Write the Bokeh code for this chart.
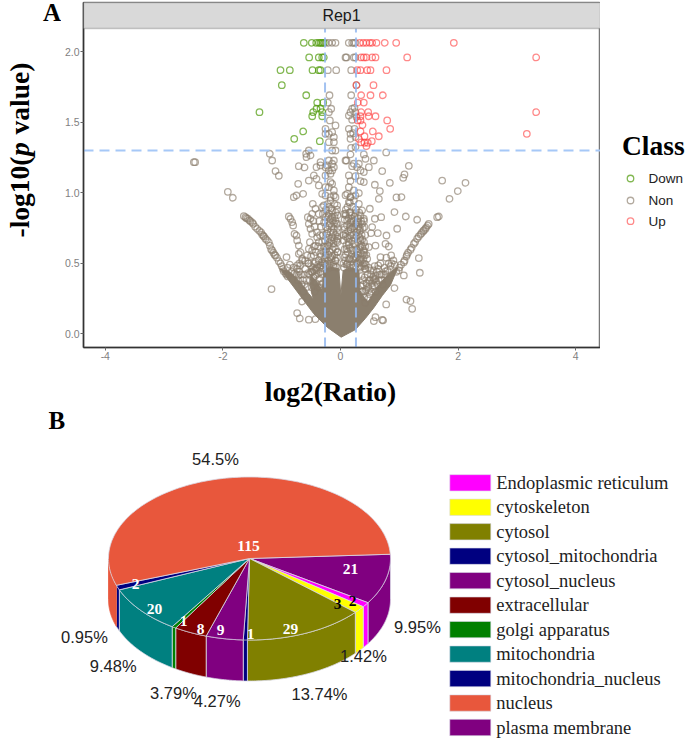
import numpy as np
from bokeh.embed import file_html
from bokeh.resources import INLINE
from bokeh.layouts import column, row
from bokeh.plotting import figure
from bokeh.models import Label, BoxAnnotation, FixedTicker, Range1d
from bokeh.core.properties import value

# ---------- volcano values (log2 ratio, -log10 p) ----------
down_x = [-.624,-.488,-.413,-.369,-.34,-.31,-.284,-.533,-.369,-.311,-.284,-1.02,-.862,-.476,-.369,-.34,
          -.998,-.583,-1.378,-.396,-.294,-.408,-.464,-.481,-.34,-.311,-.311,-.634,-.787,-.352]
down_y = [2.064,2.064,2.064,2.064,2.064,2.064,2.064,1.96,1.96,1.96,1.96,1.87,1.87,1.87,1.87,1.87,
          1.763,1.692,1.572,1.64,1.64,1.596,1.572,1.543,1.596,1.572,1.543,1.435,1.383,1.366]

up_x = [.328,.386,.442,.498,.539,.612,.753,.947,1.927,.352,.396,.442,.539,.595,1.134,3.328,
        .284,.34,.454,.51,.782,.272,.561,.352,.51,.72,.294,.396,3.328,.352,.471,.34,.481,.595,
        .794,.294,.34,.374,.845,.55,.34,3.169,.408,.651,.312,.352,.408,.464,.532,.442]
up_y = [2.064,2.064,2.064,2.064,2.064,2.064,2.064,2.064,2.064,1.96,1.96,1.96,1.96,1.96,1.96,1.96,
        1.87,1.87,1.87,1.87,1.87,1.763,1.763,1.692,1.692,1.692,1.64,1.64,1.572,1.572,1.572,1.543,1.543,1.543,
        1.513,1.513,1.513,1.48,1.454,1.435,1.435,1.418,1.401,1.401,1.383,1.357,1.355,1.355,1.366,1.33]

non_pts = [
 (-.255,2.064),(-.199,2.064),(-.141,2.064),(-.085,2.064),(.141,2.064),(.199,2.064),(.226,2.064),(.255,2.064),
 (.085,1.96),(.102,1.96),(.226,1.96),(.255,1.96),(-.216,1.87),(-.073,1.87),(.182,1.87),(.272,1.763),(.182,1.692),
 (-.187,1.692),(-.216,1.64),(-.158,1.596),(-.198,1.572),
 (-1.202,1.277),(-1.162,1.229),(-1.105,1.154),(-1.049,1.121),(-2.494,1.217),(-2.472,1.217),(-1.916,1.007),(-1.831,.965),
 (-.72,1.064),(-.709,1.189),(-.612,1.18),(-.584,1.277),(-.539,1.3),(-.578,1.253),(-.51,1.265),
 (-.539,1.087),(-.454,1.123),(-.408,1.099),(-.408,1.182),(-.34,1.194),(-.369,1.052),(-.255,1.04),
 (-.635,.993),(-.748,.981),(-.794,.969),(-.312,.993),(-.255,.981),(-.198,1.04),(-.17,1.076),(-.142,1.064),
 (-.113,1.017),(-.085,.969),(-.17,.969),(-.255,1.418),(-.255,1.454),(-.198,1.418),(-.113,1.395),(-.085,1.478),
 (-.142,1.43),(-.113,1.359),(-.198,1.359),(-.142,1.3),(-.085,1.3),(-.181,1.513),(-.34,1.217),(-.198,1.229),
 (-.142,1.206),(-.113,1.229),(-.198,1.159),(-.142,1.159),(-.17,1.135),(-.255,1.123),(-.227,1.194),(-.255,1.182),
 (-.113,1.182),(.085,1.229),
 (.198,1.596),(.17,1.572),(.255,1.572),(.238,1.603),(.142,1.548),(.198,1.518),(.272,1.537),(.142,1.454),(.238,1.454),
 (.17,1.418),(.215,1.423),(.17,1.383),(.255,1.395),(.181,1.319),(.255,1.324),(.17,1.272),(.397,1.272),(.425,1.241),
 (.102,1.229),(.227,1.206),(.312,1.206),(.198,1.189),(.283,1.182),(.34,1.159),(.482,1.182),(.567,1.229),(.397,1.147),
 (.777,1.286),(1.162,1.191),(.709,1.154),(1.088,1.13),(1.066,1.106),(.839,1.071),(.584,1.057),(.669,1.012),(.652,.957),
 (1.729,1.087),(2.126,1.071),(1.995,1.012),(1.854,.957),(.952,.967),(1.037,.97),(.34,1.083),(.397,1.076),(.142,1.123),
 (.17,1.083),(.255,1.118),(.142,1.04),(.227,1.017),(.312,.998),(.085,.983),(.17,.969),
 (1.644,.827),(1.672,.832),(1.485,.768),(1.446,.745),(1.406,.728),(1.361,.704),(1.304,.674),(1.247,.638),(1.19,.596),
 (1.122,.548),(1.077,.508),(.992,.45),(.918,.863),(1.111,.832),(1.304,.809),(.964,.745),(.692,.827),(.584,.816),
 (.499,.887),(.368,.875),(.539,.757),(.635,.714),(.522,.714),(.782,.697),(.765,.638),(.822,.619),(.862,.556),
 (1.332,.537),(1.349,.433),(1.122,.243),(1.19,.232),(1.219,.177),(.777,.208),(.726,.095),(.595,.118),(.567,.09),
 (.709,.099),(.765,.442),(1.077,.414),(.918,.324),(.68,.544),(.641,.485),(.567,.39),(.454,.532),(.397,.591),
 (.34,.662),(.482,.615),(.595,.626),
 (.085,.851),(.17,.863),(.255,.851),(.34,.839),(.397,.816),(.113,.804),(.198,.816),(.283,.792),(.368,.78),(.068,.757),
 (.159,.757),(.238,.745),(.329,.733),(.408,.757),(.085,.709),(.17,.697),(.272,.69),(.057,.662),(.142,.65),(.227,.638),
 (.34,.615),(.102,.603),(.198,.591),(.283,.58),(.408,.556),(.068,.544),(.159,.532),(.255,.532),(.34,.508),(.113,.492),
 (.215,.485),(.312,.478),(.425,.461),(.113,.993),(.17,.97),(.255,.981),(.142,.934),(.227,.946),(.312,.922),
 (-.879,.832),(-.85,.816),(-.822,.792),(-.805,.768),(-.782,.709),(-.748,.697),(-.737,.662),(-.709,.626),(-.709,.567),
 (-.68,.579),(-.652,.532),(-.68,.485),(-.709,.414),(-.737,.485),(-.918,.544),(-1.173,.317),(-.652,.229),(-.737,.147),
 (-.692,.109),(-.539,.1),(-.425,.104),
 (-1.644,.835),(-1.616,.827),(-1.576,.816),(-1.531,.799),(-1.485,.78),(-1.417,.745),(-1.332,.704),(-1.276,.674),
 (-1.219,.65),(-1.162,.591),(-1.105,.556),(-1.049,.515),(-.964,.444),(-.896,.407),
 (-.556,.827),(-.51,.816),(-.539,.78),(-.51,.745),(-.482,.709),(-.397,.685),(-.369,.65),(-.425,.626),(-.539,.603),
 (-.482,.591),(-.567,.556),(-.454,.556),(-.425,.508),(-.34,.485),(-.482,.437),(-.539,.499),(-.471,.922),(-.425,.887),
 (-.482,.851),(-.369,.851),(-.312,.898),(-.283,.91),
 (-.255,.827),(-.17,.816),(-.085,.804),(-.048,.78),(-.198,.768),(-.113,.745),(-.057,.721),(-.227,.709),(-.142,.685),
 (-.048,.674),(-.312,.65),(-.198,.626),(-.113,.615),(-.048,.579),(-.34,.567),(-.255,.556),(-.17,.544),(-.085,.52),
 (-.312,.485),(-.198,.485),(-.113,.475),(-.198,.898),(-.17,.946),(-.142,.875),(-.198,.851),(-.113,.981),(-.057,.911),
 # notches, bands and the crowded central columns
 (.42,.3),(.45,.36),(.5,.28),(.52,.42),(.55,.33),(.6,.3),(.62,.44),(.65,.38),(.7,.42),(.72,.35),(.58,.48),(.48,.47),
 (.75,.47),(.8,.45),(.85,.48),(.9,.52),(.68,.5),(.78,.54),(.42,.22),(.47,.25),(.38,.38),(.4,.48),
 (1.0,.47),(1.03,.49),(1.09,.52),(1.13,.56),(1.15,.575),(1.21,.61),(1.27,.65),(1.33,.69),(1.38,.715),(1.42,.735),
 (1.46,.755),(1.5,.78),(.95,.44),
 (-.8,.47),(-.75,.42),(-.72,.38),(-.66,.35),(-.62,.42),(-.6,.46),(-.58,.38),(-.55,.43),(-.7,.5),(-.65,.52),(-.6,.52),
 (-.5,.48),(-.45,.5),(-.63,.3),
 (-1.6,.82),(-1.55,.805),(-1.5,.79),(-1.45,.76),(-1.38,.73),(-1.31,.695),(-1.25,.665),(-1.2,.625),(-1.18,.6),(-1.14,.575),
 (-1.12,.56),(-1.08,.54),(-1.02,.5),(-1.0,.48),(-.98,.46),(-.93,.43),(-.92,.42),(-1.3,.69),(-1.35,.72),
 (-.3,.5),(-.27,.53),(-.24,.6),(-.28,.62),(-.3,.7),(-.26,.66),(-.22,.74),(-.25,.76),(-.28,.79),(-.2,.83),(-.23,.84),
 (-.17,.72),(-.15,.76),(-.13,.8),(-.1,.83),(-.07,.78),(-.05,.75),(-.09,.7),(-.16,.66),(-.12,.64),(-.08,.6),(-.05,.65),
 (-.18,.58),(-.14,.55),(-.1,.56),(-.06,.54),(-.22,.5),(-.27,.5),(-.16,.5),(-.08,.48),
 (.09,.56),(.1,.63),(.12,.68),(.13,.73),(.11,.77),(.14,.82),(.05,.5),
 (.19,.84),(.22,.8),(.25,.78),(.3,.82),(.32,.86),(.35,.8),(.38,.75),(.36,.7),(.31,.76),(.27,.72),(.22,.7),(.2,.66),
 (.16,.61),(.19,.56),(.23,.59),(.26,.63),(.3,.65),(.33,.68),(.29,.56),(.35,.57),(.37,.62),(.4,.65),(.38,.5),(.34,.47),
 (.28,.5),(.22,.47),(.16,.47),(.1,.49),(.41,.5),(.44,.56),(.05,.7),(.07,.81),(.2,.9),(.26,.88),(.12,.9),(.09,.88),
 (.16,.93),(-.06,.88),(-.1,.92),(-.16,.89),(-.22,.92),(-.25,.88),(-.3,.85),(-.33,.76),(-.35,.7),(-.38,.62),(-.42,.58),
 (-.45,.62),(-.4,.72),(-.44,.76),(-.46,.8),(-.36,.8),(-.52,.65),(-.5,.55),(-.55,.5),(-.33,.55),(-.37,.52),(-.4,.47),
 (-.42,.46),(-.38,.49),(-.35,.47),(-.31,.51),(-.29,.47),(-.25,.49),(-.21,.52),(-.19,.47),(-.15,.53),(-.12,.49),(-.09,.52),
 (-.06,.47),(.06,.47),(.08,.52),(.12,.5),(.14,.53),(.18,.49),(.21,.53),(.25,.48),(.27,.54),
 (.31,.5),(.33,.53),(.36,.48),(.39,.53),(.43,.49),
 (-.29,.58),(-.25,.62),(-.21,.56),(-.19,.65),(-.22,.63),(-.26,.58),(-.14,.6),(-.11,.67),(-.07,.66),(-.05,.69),
 (-.12,.72),(-.18,.78),(-.14,.83),(-.21,.68),(-.24,.71),(-.05,.58),(.07,.6),(.07,.74),(.09,.69),(.12,.58),
 (.14,.63),(.15,.68),(.17,.74),(.17,.79),(.2,.75),(.23,.76),(.24,.68),(.27,.78),(.29,.74),(.33,.75),(.35,.63),(.32,.6),
 (.27,.6),(.25,.55),(.22,.54),(.3,.7),(.37,.67),(.4,.58),(.42,.62),(.38,.56),(.34,.53),(.42,.7),(.4,.8),(.3,.79),(.24,.83),
 (.19,.8),(.15,.86),(.09,.84),(.06,.85),(-.05,.84),(-.08,.86),(-.11,.78),
 (.4,.26),(.44,.31),(.47,.33),(.5,.38),(.53,.36),(.57,.38),(.6,.41),(.63,.35),(.67,.42),(.7,.38),(.74,.42),(.77,.42),(.82,.5),
 (.87,.5),(.92,.49),(.38,.3),
 (-.9,.47),(-.86,.49),(-.83,.44),(-.78,.43),(-.74,.46),(-.7,.44),(-.67,.42),(-.64,.38),(-.61,.35),(-.57,.33),(-.53,.42),
 (-.5,.44),(-.47,.47),
 (-.52,.38),(-.49,.33),(-.46,.4),(-.44,.3),(-.42,.36),(-.4,.42),(-.38,.33),(-.36,.39),(-.34,.44),(-.33,.35),(-.31,.42),(-.3,.36),
 (-.48,.44),(-.45,.45),(-.41,.45),(-.37,.43),(-.43,.41),(-.35,.33),
 (.34,.34),(.36,.3),(.36,.41),(.39,.35),(.41,.4),(.42,.46),(.44,.36),(.46,.42),(.48,.31),(.49,.38),(.51,.45),(.52,.3),
 (.55,.4),(.56,.45),(.58,.34),(.59,.39),(.61,.37),(.64,.46),
]
non_x = [p[0] for p in non_pts]
non_y = [p[1] for p in non_pts]

# outline of the region where the grey points merge into a solid mass
mass_x = [.011,-.227,-.454,-.624,-.794,-.964,-1.032,-.85,-.68,-.539,-.465,-.522,-.499,-.397,-.312,-.283,-.198,-.028,.006,
          .045,.17,.312,.329,.408,.465,.624,.765,.879,.975,.85,.709,.567,.425,.255]
mass_y = [-.024,.047,.142,.236,.331,.426,.461,.437,.366,.284,.248,.355,.414,.366,.307,.449,.473,.461,.272,
          .449,.468,.449,.307,.255,.225,.331,.402,.449,.468,.345,.27,.185,.11,.03]

x_ticks = [-4, -2, 0, 2, 4]
y_ticks = [0, .5, 1, 1.5, 2]
p_cut = 1.3
ratio_cut = [-0.263, 0.263]

class_names = ["Down", "Non", "Up"]
class_colors = ["#4f9a0a", "#8B7D6B", "#ff3b3b"]
class_alpha = [.7, .65, .6]

# ---------- pie values ----------
pie_names = ["plasma membrane","Endoplasmic reticulum","cytoskeleton","cytosol","cytosol_mitochondria",
             "cytosol_nucleus","extracellular","golgi apparatus","mitochondria","mitochondria_nucleus","nucleus"]
pie_counts = [21, 2, 3, 29, 1, 9, 8, 1, 20, 2, 115]
pie_colors = ["#800080","#ff00ff","#ffff00","#808000","#000080","#800080","#800000","#008000","#008080","#000080","#E8573C"]
legend_names = ["Endoplasmic reticulum","cytoskeleton","cytosol","cytosol_mitochondria","cytosol_nucleus",
                "extracellular","golgi apparatus","mitochondria","mitochondria_nucleus","nucleus","plasma membrane"]
legend_colors = ["#ff00ff","#ffff00","#808000","#000080","#800080","#800000","#008000","#008080","#000080","#E8573C","#800080"]
pct_labels = ["54.5%","0.95%","9.48%","3.79%","4.27%","13.74%","1.42%","9.95%"]
count_labels = ["115","21","2","3","29","1","9","8","1","20","2"]
count_colors = ["white","white","black","black","white","white","white","white","white","white","white"]

# placement of the labels, in page pixels
pct_px = [(215,458),(84,636),(112.7,665),(173,692),(216.7,700),(319,693),(363,655),(417,626)]
cnt_px = [(248,545),(350,568),(352,600),(337,603),(290,628),(250,633),(220,629),(200,628),(183,620),(154,608),(135,583)]

SERIF = "Liberation Serif"
SANS = "Liberation Sans"
LEFT_W = 61
RIGHT_X = 600
TOP_H = 373

# ---------- panel A ----------
X = lambda px: (px - 340) / 58.8
Y = lambda py: (333.3 - py) / 141

p1 = figure(width=RIGHT_X - LEFT_W, height=TOP_H, output_backend="svg", toolbar_location=None,
            x_range=Range1d(X(83), X(RIGHT_X)), y_range=Range1d(Y(347), Y(2)),
            min_border_left=83 - LEFT_W, min_border_right=0, min_border_top=2, min_border_bottom=TOP_H - 347,
            background_fill_color="white", border_fill_color="white")
p1.frame_align = False
p1.grid.visible = False
p1.outline_line_color = "#777777"
p1.outline_line_width = 1.5

for ax, ticks in ((p1.xaxis[0], x_ticks), (p1.yaxis[0], y_ticks)):
    ax.ticker = FixedTicker(ticks=ticks)
    ax.minor_tick_line_color = None
    ax.major_tick_line_color = "#666666"
    ax.major_tick_in = 0
    ax.major_tick_out = 3
    ax.axis_line_color = "#333333"
    ax.axis_line_width = 1.5
    ax.major_label_text_color = "#7f7f7f"
    ax.major_label_text_font = SANS
    ax.major_label_text_font_size = "10.5px"
    ax.major_label_standoff = 1
p1.xaxis[0].major_label_overrides = {t: str(t) for t in x_ticks}
p1.yaxis[0].major_label_overrides = {t: f"{t:.1f}" for t in y_ticks}

p1.add_layout(BoxAnnotation(left=X(83), right=X(RIGHT_X), bottom=Y(28), top=Y(2),
                            fill_color="#d9d9d9", fill_alpha=1, line_color="#555555", line_width=1.5))

p1.patch(mass_x, mass_y, fill_color="#8b7f6e", line_color="#8b7f6e", line_width=1)
for xs, ys, col, al in ((non_x, non_y, class_colors[1], class_alpha[1]),
                        (down_x, down_y, class_colors[0], class_alpha[0]),
                        (up_x, up_y, class_colors[2], class_alpha[2])):
    p1.scatter(xs, ys, marker="circle", size=6.5, fill_color=None, line_color=col, line_alpha=al, line_width=1.3)
p1.segment(x0=[X(83)], y0=[p_cut], x1=[X(RIGHT_X)], y1=[p_cut], line_color="#a6c8f7", line_width=2, line_dash="10 6")
p1.segment(x0=ratio_cut, y0=[Y(347)] * 2, x1=ratio_cut, y1=[Y(28)] * 2, line_color="#93b7ef",
           line_alpha=.85, line_width=2, line_dash="10 5")
p1.add_layout(Label(x=X(341), y=Y(15), text="Rep1", text_font=SANS, text_font_size="16px",
                    text_align="center", text_baseline="middle", text_color="#1a1a1a"))


def side_figure(w):
    f = figure(width=w, height=TOP_H, output_backend="svg", toolbar_location=None,
               x_range=Range1d(0, w), y_range=Range1d(TOP_H, 0),
               x_axis_location=None, y_axis_location=None,
               min_border_left=0, min_border_right=0, min_border_top=0, min_border_bottom=0,
               background_fill_color="white", border_fill_color="white")
    f.frame_align = False
    f.grid.visible = False
    f.outline_line_color = None
    return f


# left strip: panel letter and rotated axis title (its "p" is italic)
pL = side_figure(LEFT_W)
pL.text([42.5], [12], text=["A"], text_font=value(SERIF), text_font_style="bold", text_font_size="25px",
        text_color="black", text_baseline="middle")
for txt, py, sty in (("-log10(", 237, "bold"), ("p", 155.5, "bold italic"), ("value)", 134, "bold")):
    pL.text([19], [py], text=[txt], text_font=value(SERIF), text_font_style=sty, text_font_size="27.5px",
            text_color="black", text_baseline="middle", angle=np.pi / 2)

# right strip: class legend
pR = side_figure(685 - RIGHT_X)
pR.text([621.5 - RIGHT_X], [145], text=["Class"], text_font=value(SERIF), text_font_style="bold",
        text_font_size="27.5px", text_color="black", text_baseline="middle")
leg_y = [178, 200, 220.7]
pR.scatter([630 - RIGHT_X] * 3, leg_y, marker="circle", size=6.5, fill_color=None,
           line_color=class_colors, line_alpha=class_alpha, line_width=1.3)
pR.text([648 - RIGHT_X] * 3, leg_y, text=class_names, text_font=value(SANS), text_font_size="13.5px",
        text_color="#222222", text_baseline="middle")

# ---------- panel B (also carries the x title of panel A) ----------
PX = lambda px: (px - 249) / 141
PY = lambda py: (558 - py) / 81.5
DEPTH = 41 / 81.5

p2 = figure(width=685, height=742 - TOP_H, output_backend="svg", toolbar_location=None,
            x_range=Range1d(PX(0), PX(685)), y_range=Range1d(PY(742), PY(TOP_H)),
            x_axis_location=None, y_axis_location=None,
            min_border_left=0, min_border_right=0, min_border_top=0, min_border_bottom=0,
            background_fill_color="white", border_fill_color="white")
p2.frame_align = False
p2.grid.visible = False
p2.outline_line_color = None

p2.text([PX(330)], [PY(391)], text=["log2(Ratio)"], text_font=value(SERIF), text_font_style="bold",
        text_font_size="27.5px", text_color="black", text_align="center", text_baseline="middle")

edge = "#d9d9e6"
start = 3.0
ends = start - np.cumsum(pie_counts) / sum(pie_counts) * 360
starts = np.r_[start, ends[:-1]]

# side walls: only the front half of the rim (-180..0 degrees) shows
for a0, a1, col in zip(starts, ends, pie_colors):
    s, e = min(a0, 0), max(a1, -180)
    if s <= e:
        continue
    t = np.radians(np.linspace(s, e, 60))
    p2.patch(np.r_[np.cos(t), np.cos(t[::-1])], np.r_[np.sin(t), np.sin(t[::-1]) - DEPTH],
             fill_color=col, line_color=edge if col != pie_colors[-1] else col, line_width=.8)

# top faces
for a0, a1, col in zip(starts, ends, pie_colors):
    t = np.radians(np.linspace(a0, a1, 160))
    p2.patch(np.r_[0, np.cos(t)], np.r_[0, np.sin(t)], fill_color=col, line_color=edge, line_width=.8)

p2.text([PX(a) for a, _ in pct_px], [PY(b) for _, b in pct_px], text=pct_labels,
        text_font=value(SANS), text_font_size="16.5px", text_color="#222222",
        text_align="center", text_baseline="middle")
p2.text([PX(a) for a, _ in cnt_px], [PY(b) for _, b in cnt_px], text=count_labels,
        text_font=value(SERIF), text_font_style="bold", text_font_size="15.5px", text_color=count_colors,
        text_align="center", text_baseline="middle")

rows = np.arange(len(legend_names))
row_py = 482.3 + rows * 24.47
p2.rect(x=[PX(469.8)] * len(rows), y=PY(row_py), width=41 / 141, height=16.3 / 81.5,
        fill_color=legend_colors, line_color=edge, line_width=.6)
p2.text(x=[PX(495.7)] * len(rows), y=PY(row_py), text=legend_names, text_font=value(SERIF),
        text_font_size="18.5px", text_color="#222222", text_align="left", text_baseline="middle")
p2.text([PX(48)], [PY(420)], text=["B"], text_font=value(SERIF), text_font_size="25px",
        text_font_style="bold", text_baseline="middle", text_color="black")

top = row(pL, p1, pR, spacing=0)
page = column(top, p2, spacing=0, margin=0)
open("out.html", "w").write(file_html(page, INLINE))
